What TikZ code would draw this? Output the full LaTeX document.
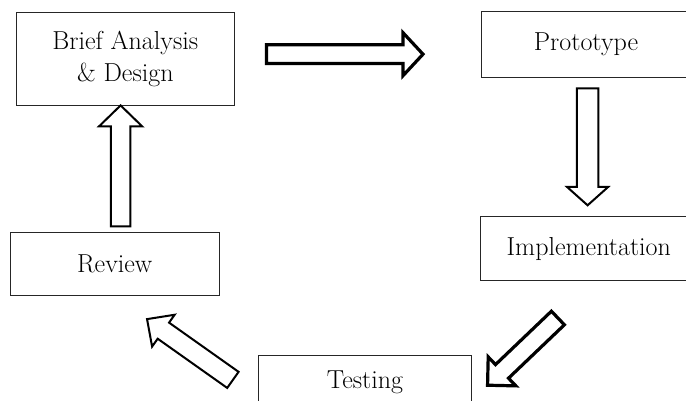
\documentclass[tikz,border=0pt]{standalone}
\usetikzlibrary{calc}
\tikzset{
  box/.style={draw=black!85, line width=0.9pt, rectangle, align=center, inner sep=2pt,
    font=\fontsize{26}{32}\selectfont},
  arrthick/.style={draw=black, fill=white, line width=3.2pt, line join=miter},
  arrthin/.style={draw=black, fill=white, line width=2pt, line join=miter},
}
% #1 style, #2 tail coordinate, #3 angle, #4 length, #5 shaft half width, #6 head half width, #7 head length
\newcommand{\blockarrow}[7]{%
  \begin{scope}[shift={(#2)}, rotate=#3]
    \draw[#1] (0,-#5) -- ({#4-#7},-#5) -- ({#4-#7},-#6) -- (#4,0) -- ({#4-#7},#6) -- ({#4-#7},#5) -- (0,#5) -- cycle;
  \end{scope}}
\begin{document}
\begin{tikzpicture}[x=1pt, y=-1pt]
  \useasboundingbox (0,0) rectangle (686,401);
  % boxes
  \node[box, minimum width=217.3pt, minimum height=93.3pt] (brief) at (125.3,59.3) {Brief Analysis\\\& Design};
  \node[box, minimum width=210pt, minimum height=66pt] (proto) at (586,44.7) {Prototype};
  \node[box, minimum width=216pt, minimum height=63.7pt] (impl) at (588.8,248.8) {Implementation};
  \node[box, minimum width=213.4pt, minimum height=54.4pt] (test) at (365,382.2) {Testing};
  \node[box, minimum width=209.3pt, minimum height=62.7pt] (review) at (114.7,263.7) {Review};
  % arrow tails
  \coordinate (t1) at (266.5,54.2);
  \coordinate (t2) at (587.6,88.3);
  \coordinate (t5) at (557.9,318);
  \coordinate (t4) at (232.9,379.9);
  \coordinate (t3) at (120.6,226.3);
  % block arrows
  \blockarrow{arrthick}{t1}{0}{156.5}{9.35}{21.5}{20}
  \blockarrow{arrthin}{t2}{-90}{117}{10.65}{20.5}{18.3}
  \blockarrow{arrthick}{t5}{-136.3}{97.3}{9.4}{20}{20}
  \blockarrow{arrthin}{t4}{144.7}{105.2}{9.85}{19.5}{20}
  \blockarrow{arrthin}{t3}{90}{120.9}{9.85}{21.5}{20.9}
\end{tikzpicture}
\end{document}
